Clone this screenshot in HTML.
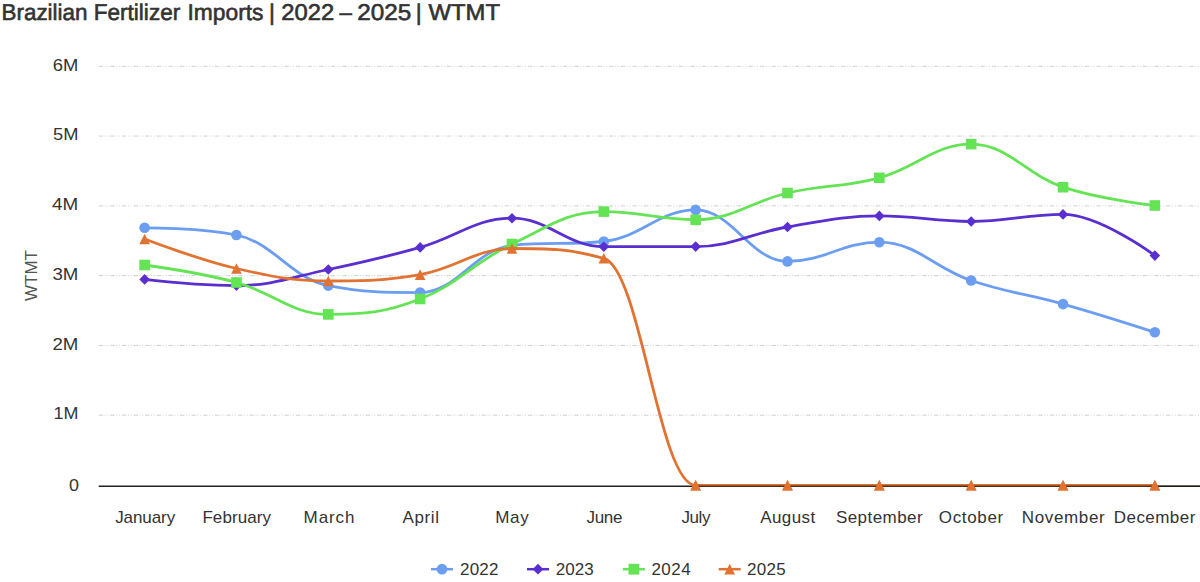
<!DOCTYPE html>
<html><head><meta charset="utf-8"><style>
html,body{margin:0;padding:0;background:#fff;width:1200px;height:582px;overflow:hidden}
svg{display:block}
text{font-family:"Liberation Sans",sans-serif}
.lab{font-size:17px;fill:#333}
.ytitle{font-size:17px;fill:#555}
.title{text-rendering:geometricPrecision;font-size:22.8px;font-weight:normal;fill:#333;stroke:#333;stroke-width:0.6px}
</style></head><body>
<svg width="1200" height="582" viewBox="0 0 1200 582">
<rect width="1200" height="582" fill="#fff"/>
<text x="1.5" y="19.9" class="title" textLength="86.0" lengthAdjust="spacingAndGlyphs">Brazilian</text>
<text x="93.8" y="19.9" class="title" textLength="86.4" lengthAdjust="spacingAndGlyphs">Fertilizer</text>
<text x="187.5" y="19.9" class="title" textLength="76.0" lengthAdjust="spacingAndGlyphs">Imports</text>
<text x="271.9" y="19.9" class="title" text-anchor="middle">|</text>
<text x="281.3" y="19.9" class="title" textLength="53.0" lengthAdjust="spacingAndGlyphs">2022</text>
<text x="339.6" y="19.9" class="title" textLength="12.4" lengthAdjust="spacingAndGlyphs">–</text>
<text x="357.3" y="19.9" class="title" textLength="54.1" lengthAdjust="spacingAndGlyphs">2025</text>
<text x="418.8" y="19.9" class="title" text-anchor="middle">|</text>
<text x="428.6" y="19.9" class="title" textLength="71.4" lengthAdjust="spacingAndGlyphs">WTMT</text>
<path d="M98.7 415.20H1200" stroke="#d0d0d0" stroke-width="1" stroke-dasharray="4.5 1.5 1 1.8 1 1.8" fill="none"/>
<path d="M98.7 345.42H1200" stroke="#d0d0d0" stroke-width="1" stroke-dasharray="4.5 1.5 1 1.8 1 1.8" fill="none"/>
<path d="M98.7 275.64H1200" stroke="#d0d0d0" stroke-width="1" stroke-dasharray="4.5 1.5 1 1.8 1 1.8" fill="none"/>
<path d="M98.7 205.86H1200" stroke="#d0d0d0" stroke-width="1" stroke-dasharray="4.5 1.5 1 1.8 1 1.8" fill="none"/>
<path d="M98.7 136.08H1200" stroke="#d0d0d0" stroke-width="1" stroke-dasharray="4.5 1.5 1 1.8 1 1.8" fill="none"/>
<path d="M98.7 66.30H1200" stroke="#d0d0d0" stroke-width="1" stroke-dasharray="4.5 1.5 1 1.8 1 1.8" fill="none"/>
<text x="68.90" y="491.30" class="lab" textLength="9.97" lengthAdjust="spacingAndGlyphs">0</text>
<text x="53.50" y="419.40" class="lab" textLength="24.90" lengthAdjust="spacingAndGlyphs">1M</text>
<text x="52.50" y="349.62" class="lab" textLength="25.90" lengthAdjust="spacingAndGlyphs">2M</text>
<text x="52.50" y="279.84" class="lab" textLength="25.90" lengthAdjust="spacingAndGlyphs">3M</text>
<text x="52.00" y="210.06" class="lab" textLength="26.20" lengthAdjust="spacingAndGlyphs">4M</text>
<text x="53.00" y="140.28" class="lab" textLength="25.40" lengthAdjust="spacingAndGlyphs">5M</text>
<text x="52.80" y="70.50" class="lab" textLength="25.50" lengthAdjust="spacingAndGlyphs">6M</text>
<text x="115.20" y="522.6" class="lab" textLength="59.98" lengthAdjust="spacing">January</text>
<text x="202.40" y="522.6" class="lab" textLength="68.63" lengthAdjust="spacing">February</text>
<text x="303.60" y="522.6" class="lab" textLength="50.83" lengthAdjust="spacing">March</text>
<text x="402.60" y="522.6" class="lab" textLength="36.32" lengthAdjust="spacing">April</text>
<text x="495.20" y="522.6" class="lab" textLength="33.52" lengthAdjust="spacing">May</text>
<text x="586.50" y="522.6" class="lab" textLength="35.88" lengthAdjust="spacing">June</text>
<text x="681.50" y="522.6" class="lab" textLength="28.93" lengthAdjust="spacing">July</text>
<text x="760.30" y="522.6" class="lab" textLength="54.84" lengthAdjust="spacing">August</text>
<text x="835.90" y="522.6" class="lab" textLength="86.77" lengthAdjust="spacing">September</text>
<text x="938.80" y="522.6" class="lab" textLength="64.48" lengthAdjust="spacing">October</text>
<text x="1021.70" y="522.6" class="lab" textLength="83.02" lengthAdjust="spacing">November</text>
<text x="1113.80" y="522.6" class="lab" textLength="81.52" lengthAdjust="spacing">December</text>
<path d="M98.7 486.30H1200" stroke="#222" stroke-width="1.6" fill="none"/>
<text transform="translate(37.3 275.5) rotate(-90)" text-anchor="middle" class="ytitle">WTMT</text>
<path d="M144.62 227.80 C144.62 227.80 199.72 227.80 236.46 235.00 C273.20 242.20 291.56 278.60 328.30 285.60 C365.04 292.60 383.40 292.60 420.14 292.60 C456.88 292.60 475.24 249.10 511.98 245.30 C548.72 241.50 567.08 245.30 603.82 241.50 C640.56 237.70 658.92 209.90 695.66 209.90 C732.40 209.90 750.76 261.40 787.50 261.40 C824.24 261.40 842.60 242.20 879.34 242.20 C916.08 242.20 934.44 268.12 971.18 280.50 C1007.92 292.88 1026.28 293.74 1063.02 304.10 C1099.76 314.46 1154.86 332.30 1154.86 332.30" stroke="#6b9df1" stroke-width="2.8" fill="none" stroke-linejoin="round" stroke-linecap="round"/>
<circle cx="144.62" cy="227.80" r="5.30" fill="#6b9df1"/>
<circle cx="236.46" cy="235.00" r="5.30" fill="#6b9df1"/>
<circle cx="328.30" cy="285.60" r="5.30" fill="#6b9df1"/>
<circle cx="420.14" cy="292.60" r="5.30" fill="#6b9df1"/>
<circle cx="511.98" cy="245.30" r="5.30" fill="#6b9df1"/>
<circle cx="603.82" cy="241.50" r="5.30" fill="#6b9df1"/>
<circle cx="695.66" cy="209.90" r="5.30" fill="#6b9df1"/>
<circle cx="787.50" cy="261.40" r="5.30" fill="#6b9df1"/>
<circle cx="879.34" cy="242.20" r="5.30" fill="#6b9df1"/>
<circle cx="971.18" cy="280.50" r="5.30" fill="#6b9df1"/>
<circle cx="1063.02" cy="304.10" r="5.30" fill="#6b9df1"/>
<circle cx="1154.86" cy="332.30" r="5.30" fill="#6b9df1"/>
<path d="M144.62 279.40 C144.62 279.40 199.72 285.60 236.46 285.60 C273.20 285.60 291.56 277.14 328.30 269.50 C365.04 261.86 383.40 257.66 420.14 247.40 C456.88 237.14 475.24 218.20 511.98 218.20 C548.72 218.20 567.08 246.70 603.82 246.70 C640.56 246.70 658.92 246.70 695.66 246.60 C732.40 246.50 750.76 233.14 787.50 227.00 C824.24 220.86 842.60 215.90 879.34 215.90 C916.08 215.90 934.44 221.50 971.18 221.50 C1007.92 221.50 1026.28 214.40 1063.02 214.40 C1099.76 214.40 1154.86 255.60 1154.86 255.60" stroke="#5a2fcf" stroke-width="2.8" fill="none" stroke-linejoin="round" stroke-linecap="round"/>
<path d="M144.62 274.10L149.92 279.40L144.62 284.70L139.32 279.40Z" fill="#5a2fcf"/>
<path d="M236.46 280.30L241.76 285.60L236.46 290.90L231.16 285.60Z" fill="#5a2fcf"/>
<path d="M328.30 264.20L333.60 269.50L328.30 274.80L323.00 269.50Z" fill="#5a2fcf"/>
<path d="M420.14 242.10L425.44 247.40L420.14 252.70L414.84 247.40Z" fill="#5a2fcf"/>
<path d="M511.98 212.90L517.28 218.20L511.98 223.50L506.68 218.20Z" fill="#5a2fcf"/>
<path d="M603.82 241.40L609.12 246.70L603.82 252.00L598.52 246.70Z" fill="#5a2fcf"/>
<path d="M695.66 241.30L700.96 246.60L695.66 251.90L690.36 246.60Z" fill="#5a2fcf"/>
<path d="M787.50 221.70L792.80 227.00L787.50 232.30L782.20 227.00Z" fill="#5a2fcf"/>
<path d="M879.34 210.60L884.64 215.90L879.34 221.20L874.04 215.90Z" fill="#5a2fcf"/>
<path d="M971.18 216.20L976.48 221.50L971.18 226.80L965.88 221.50Z" fill="#5a2fcf"/>
<path d="M1063.02 209.10L1068.32 214.40L1063.02 219.70L1057.72 214.40Z" fill="#5a2fcf"/>
<path d="M1154.86 250.30L1160.16 255.60L1154.86 260.90L1149.56 255.60Z" fill="#5a2fcf"/>
<path d="M144.62 265.00 C144.62 265.00 199.72 272.62 236.46 282.50 C273.20 292.38 291.56 314.40 328.30 314.40 C365.04 314.40 383.40 313.08 420.14 299.00 C456.88 284.92 475.24 261.48 511.98 244.00 C548.72 226.52 567.08 211.60 603.82 211.60 C640.56 211.60 658.92 219.80 695.66 219.80 C732.40 219.80 750.76 201.40 787.50 193.00 C824.24 184.60 842.60 187.58 879.34 177.80 C916.08 168.02 934.44 144.10 971.18 144.10 C1007.92 144.10 1026.28 174.92 1063.02 187.20 C1099.76 199.48 1154.86 205.50 1154.86 205.50" stroke="#64e455" stroke-width="2.8" fill="none" stroke-linejoin="round" stroke-linecap="round"/>
<rect x="139.32" y="259.70" width="10.60" height="10.60" fill="#64e455"/>
<rect x="231.16" y="277.20" width="10.60" height="10.60" fill="#64e455"/>
<rect x="323.00" y="309.10" width="10.60" height="10.60" fill="#64e455"/>
<rect x="414.84" y="293.70" width="10.60" height="10.60" fill="#64e455"/>
<rect x="506.68" y="238.70" width="10.60" height="10.60" fill="#64e455"/>
<rect x="598.52" y="206.30" width="10.60" height="10.60" fill="#64e455"/>
<rect x="690.36" y="214.50" width="10.60" height="10.60" fill="#64e455"/>
<rect x="782.20" y="187.70" width="10.60" height="10.60" fill="#64e455"/>
<rect x="874.04" y="172.50" width="10.60" height="10.60" fill="#64e455"/>
<rect x="965.88" y="138.80" width="10.60" height="10.60" fill="#64e455"/>
<rect x="1057.72" y="181.90" width="10.60" height="10.60" fill="#64e455"/>
<rect x="1149.56" y="200.20" width="10.60" height="10.60" fill="#64e455"/>
<path d="M144.62 239.00 C144.62 239.00 199.72 260.10 236.46 268.50 C273.20 276.90 291.56 281.00 328.30 281.00 C365.04 281.00 383.40 281.00 420.14 274.60 C456.88 268.20 475.24 248.50 511.98 248.50 C548.72 248.50 567.08 248.50 603.82 258.30 C640.56 268.10 658.92 485.30 695.66 485.30 C732.40 485.30 750.76 485.30 787.50 485.30 C824.24 485.30 842.60 485.30 879.34 485.30 C916.08 485.30 934.44 485.30 971.18 485.30 C1007.92 485.30 1026.28 485.30 1063.02 485.30 C1099.76 485.30 1154.86 485.30 1154.86 485.30" stroke="#e17332" stroke-width="2.8" fill="none" stroke-linejoin="round" stroke-linecap="round"/>
<path d="M144.62 233.70L149.92 244.30L139.32 244.30Z" fill="#e17332"/>
<path d="M236.46 263.20L241.76 273.80L231.16 273.80Z" fill="#e17332"/>
<path d="M328.30 275.70L333.60 286.30L323.00 286.30Z" fill="#e17332"/>
<path d="M420.14 269.30L425.44 279.90L414.84 279.90Z" fill="#e17332"/>
<path d="M511.98 243.20L517.28 253.80L506.68 253.80Z" fill="#e17332"/>
<path d="M603.82 253.00L609.12 263.60L598.52 263.60Z" fill="#e17332"/>
<path d="M695.66 480.00L700.96 490.60L690.36 490.60Z" fill="#e17332"/>
<path d="M787.50 480.00L792.80 490.60L782.20 490.60Z" fill="#e17332"/>
<path d="M879.34 480.00L884.64 490.60L874.04 490.60Z" fill="#e17332"/>
<path d="M971.18 480.00L976.48 490.60L965.88 490.60Z" fill="#e17332"/>
<path d="M1063.02 480.00L1068.32 490.60L1057.72 490.60Z" fill="#e17332"/>
<path d="M1154.86 480.00L1160.16 490.60L1149.56 490.60Z" fill="#e17332"/>
<path d="M695.7 486.30H1200" stroke="#2a1a10" stroke-opacity="0.7" stroke-width="1.6" fill="none"/>
<path d="M695.66 480.00L700.96 490.60L690.36 490.60Z" fill="#e17332"/>
<path d="M787.50 480.00L792.80 490.60L782.20 490.60Z" fill="#e17332"/>
<path d="M879.34 480.00L884.64 490.60L874.04 490.60Z" fill="#e17332"/>
<path d="M971.18 480.00L976.48 490.60L965.88 490.60Z" fill="#e17332"/>
<path d="M1063.02 480.00L1068.32 490.60L1057.72 490.60Z" fill="#e17332"/>
<path d="M1154.86 480.00L1160.16 490.60L1149.56 490.60Z" fill="#e17332"/>
<path d="M431.0 569.2H453.0" stroke="#6b9df1" stroke-width="2.5"/>
<circle cx="442.00" cy="569.20" r="5.40" fill="#6b9df1"/>
<text x="460.00" y="575.0" class="lab" textLength="38.53" lengthAdjust="spacing">2022</text>
<path d="M527.0 569.2H549.0" stroke="#5a2fcf" stroke-width="2.5"/>
<path d="M538.00 563.80L543.40 569.20L538.00 574.60L532.60 569.20Z" fill="#5a2fcf"/>
<text x="555.70" y="575.0" class="lab" textLength="38.13" lengthAdjust="spacing">2023</text>
<path d="M622.9 569.2H644.9" stroke="#64e455" stroke-width="2.5"/>
<rect x="628.50" y="563.80" width="10.80" height="10.80" fill="#64e455"/>
<text x="651.40" y="575.0" class="lab" textLength="39.23" lengthAdjust="spacing">2024</text>
<path d="M718.7 569.2H740.7" stroke="#e17332" stroke-width="2.5"/>
<path d="M729.70 563.80L735.10 574.60L724.30 574.60Z" fill="#e17332"/>
<text x="747.00" y="575.0" class="lab" textLength="38.83" lengthAdjust="spacing">2025</text>
</svg></body></html>
